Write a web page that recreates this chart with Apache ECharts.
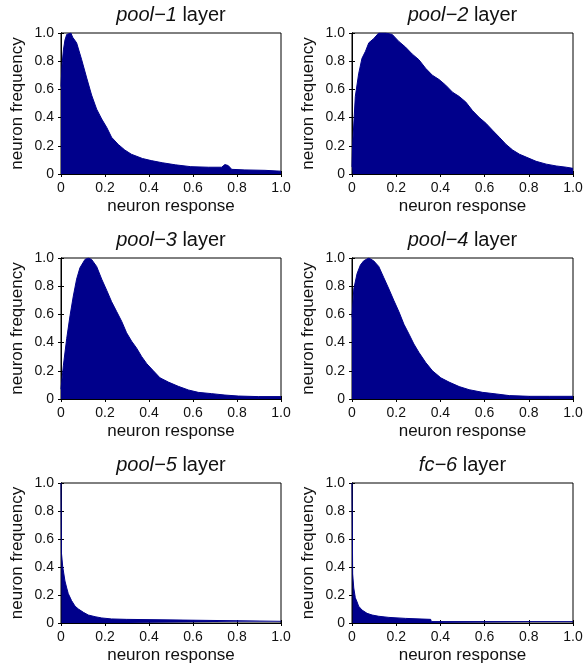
<!DOCTYPE html>
<html>
<head>
<meta charset="utf-8">
<script src="https://cdn.jsdelivr.net/npm/echarts@6/dist/echarts.min.js"></script>
<style>
html,body{margin:0;padding:0;background:#fff;}
#chart{width:588px;height:668px;}
</style>
</head>
<body>
<div id="chart"></div>
<script>
// ---- data ----
var layerNames = ["pool\u22121", "pool\u22122", "pool\u22123", "pool\u22124", "pool\u22125", "fc\u22126"];
var xTicks = [0, 0.2, 0.4, 0.6, 0.8, 1.0];
var yTicks = [0, 0.2, 0.4, 0.6, 0.8, 1.0];

var pool1X = [0, 0.005, 0.011, 0.018, 0.026, 0.035, 0.045, 0.053, 0.071, 0.094, 0.117, 0.139, 0.162, 0.185, 0.208, 0.23, 0.26, 0.29, 0.32, 0.37, 0.41, 0.46, 0.52, 0.59, 0.67, 0.73, 0.745, 0.76, 0.776, 0.836, 0.927, 1.0];
var pool1Y = [0.62, 0.78, 0.88, 0.95, 0.99, 1.0, 1.0, 0.97, 0.93, 0.81, 0.68, 0.56, 0.46, 0.39, 0.33, 0.26, 0.21, 0.17, 0.14, 0.11, 0.095, 0.08, 0.065, 0.052, 0.048, 0.048, 0.067, 0.06, 0.033, 0.029, 0.026, 0.02];

var pool2X = [0, 0.003, 0.015, 0.03, 0.045, 0.061, 0.076, 0.098, 0.121, 0.152, 0.182, 0.212, 0.242, 0.273, 0.303, 0.333, 0.364, 0.394, 0.424, 0.455, 0.485, 0.515, 0.545, 0.576, 0.606, 0.636, 0.667, 0.697, 0.727, 0.758, 0.788, 0.833, 0.879, 0.924, 0.97, 1.0];
var pool2Y = [0.05, 0.21, 0.55, 0.71, 0.82, 0.87, 0.93, 0.96, 1.0, 1.0, 0.99, 0.94, 0.90, 0.85, 0.81, 0.75, 0.70, 0.67, 0.63, 0.58, 0.55, 0.51, 0.45, 0.40, 0.36, 0.31, 0.26, 0.21, 0.17, 0.14, 0.12, 0.09, 0.07, 0.057, 0.048, 0.04];

var pool3X = [0, 0.011, 0.026, 0.041, 0.056, 0.071, 0.086, 0.109, 0.124, 0.139, 0.162, 0.185, 0.208, 0.23, 0.253, 0.276, 0.298, 0.321, 0.344, 0.367, 0.39, 0.42, 0.45, 0.488, 0.533, 0.579, 0.624, 0.685, 0.745, 0.806, 0.897, 1.0];
var pool3Y = [0.07, 0.24, 0.43, 0.59, 0.73, 0.85, 0.93, 0.99, 1.0, 0.99, 0.94, 0.85, 0.77, 0.69, 0.62, 0.55, 0.47, 0.41, 0.36, 0.30, 0.25, 0.20, 0.15, 0.12, 0.09, 0.064, 0.047, 0.038, 0.028, 0.021, 0.017, 0.017];

var pool4X = [0, 0.008, 0.023, 0.038, 0.053, 0.076, 0.098, 0.121, 0.144, 0.167, 0.189, 0.212, 0.235, 0.258, 0.28, 0.303, 0.333, 0.364, 0.402, 0.439, 0.485, 0.53, 0.591, 0.652, 0.712, 0.803, 0.894, 1.0];
var pool4Y = [0.58, 0.78, 0.89, 0.95, 0.98, 1.0, 0.98, 0.94, 0.86, 0.78, 0.70, 0.62, 0.53, 0.46, 0.39, 0.33, 0.26, 0.20, 0.15, 0.12, 0.088, 0.066, 0.047, 0.036, 0.024, 0.019, 0.019, 0.019];

var pool5X = [0, 0.002, 0.008, 0.018, 0.026, 0.033, 0.048, 0.064, 0.079, 0.102, 0.124, 0.155, 0.185, 0.23, 0.298, 0.301, 1.0];
var pool5Y = [1.0, 0.50, 0.40, 0.30, 0.25, 0.21, 0.16, 0.12, 0.10, 0.076, 0.057, 0.045, 0.036, 0.029, 0.026, 0.012, 0.012];

var fc6X = [0, 0.003, 0.008, 0.015, 0.023, 0.03, 0.045, 0.068, 0.091, 0.121, 0.167, 0.242, 0.356, 0.359, 1.0];
var fc6Y = [1.0, 0.35, 0.25, 0.18, 0.15, 0.12, 0.093, 0.069, 0.057, 0.048, 0.04, 0.033, 0.026, 0.01, 0.01];

var seriesX = [pool1X, pool2X, pool3X, pool4X, pool5X, fc6X];
var seriesY = [pool1Y, pool2Y, pool3Y, pool4Y, pool5Y, fc6Y];

// ---- layout ----
var FONT = "Liberation Sans, Arial, Helvetica, sans-serif";
var FILL = "#00008B";
var gridBoxes = [
  {left: 61, top: 33, width: 220, height: 141},
  {left: 352, top: 33, width: 221, height: 141},
  {left: 61, top: 258, width: 220, height: 141},
  {left: 352, top: 258, width: 221, height: 141},
  {left: 61, top: 483, width: 220, height: 140},
  {left: 352, top: 483, width: 221, height: 140}
];

function fmt(v) { return v === 0 ? "0" : v.toFixed(1); }

var grid = [], xAxis = [], yAxis = [], series = [], title = [];
gridBoxes.forEach(function (g, i) {
  grid.push({left: g.left, top: g.top, width: g.width, height: g.height,
    show: true, borderColor: "#000", borderWidth: 1, backgroundColor: "#fff", containLabel: false});
  var tickStyle = {show: true, inside: true, length: 3, lineStyle: {color: "#000", width: 1}};
  // bottom x axis
  xAxis.push({type: "value", gridIndex: i, min: xTicks[0], max: xTicks[xTicks.length - 1], interval: 0.2,
    position: "bottom",
    axisLine: {show: true, lineStyle: {color: "#000", width: 1}},
    axisTick: tickStyle, splitLine: {show: false},
    axisLabel: {show: true, margin: 7, color: "#111", fontSize: 14, fontFamily: FONT, formatter: fmt},
    name: "neuron response", nameLocation: "middle", nameGap: 24,
    nameTextStyle: {color: "#111", fontSize: 17, fontFamily: FONT}});
  // top x axis (ticks only)
  xAxis.push({type: "value", gridIndex: i, min: 0, max: 1, interval: 0.2, position: "top",
    axisLine: {show: true, lineStyle: {color: "#000", width: 1}},
    axisTick: tickStyle, axisLabel: {show: false}, splitLine: {show: false}});
  // left y axis
  yAxis.push({type: "value", gridIndex: i, min: yTicks[0], max: yTicks[yTicks.length - 1], interval: 0.2,
    position: "left",
    axisLine: {show: true, lineStyle: {color: "#000", width: 1}},
    axisTick: tickStyle, splitLine: {show: false},
    axisLabel: {show: true, margin: 7, color: "#111", fontSize: 14, fontFamily: FONT, formatter: fmt},
    name: "neuron frequency", nameLocation: "middle", nameGap: 35,
    nameTextStyle: {color: "#111", fontSize: 17, fontFamily: FONT}});
  // right y axis (ticks only)
  yAxis.push({type: "value", gridIndex: i, min: 0, max: 1, interval: 0.2, position: "right",
    axisLine: {show: true, lineStyle: {color: "#000", width: 1}},
    axisTick: tickStyle, axisLabel: {show: false}, splitLine: {show: false}});

  var pts = seriesX[i].map(function (x, k) { return [x, seriesY[i][k]]; });
  series.push({type: "line", xAxisIndex: 2 * i, yAxisIndex: 2 * i, data: pts,
    showSymbol: false, symbol: "none", smooth: false, z: 1,
    lineStyle: {color: FILL, width: 1}, areaStyle: {color: FILL, opacity: 1}, animation: false});

  title.push({text: "{i|" + layerNames[i] + "}{n| layer}", left: g.left + g.width / 2, top: g.top - 28,
    textAlign: "center", padding: 0,
    textStyle: {fontWeight: "normal", rich: {
      i: {fontStyle: "italic", fontWeight: "normal", fontSize: 20, fontFamily: FONT, color: "#111"},
      n: {fontWeight: "normal", fontSize: 20, fontFamily: FONT, color: "#111"}
    }}});
});

var chart = echarts.init(document.getElementById("chart"), null, {renderer: "canvas"});
chart.setOption({animation: false, backgroundColor: "#fff", title: title, grid: grid,
  xAxis: xAxis, yAxis: yAxis, series: series});
</script>
</body>
</html>
